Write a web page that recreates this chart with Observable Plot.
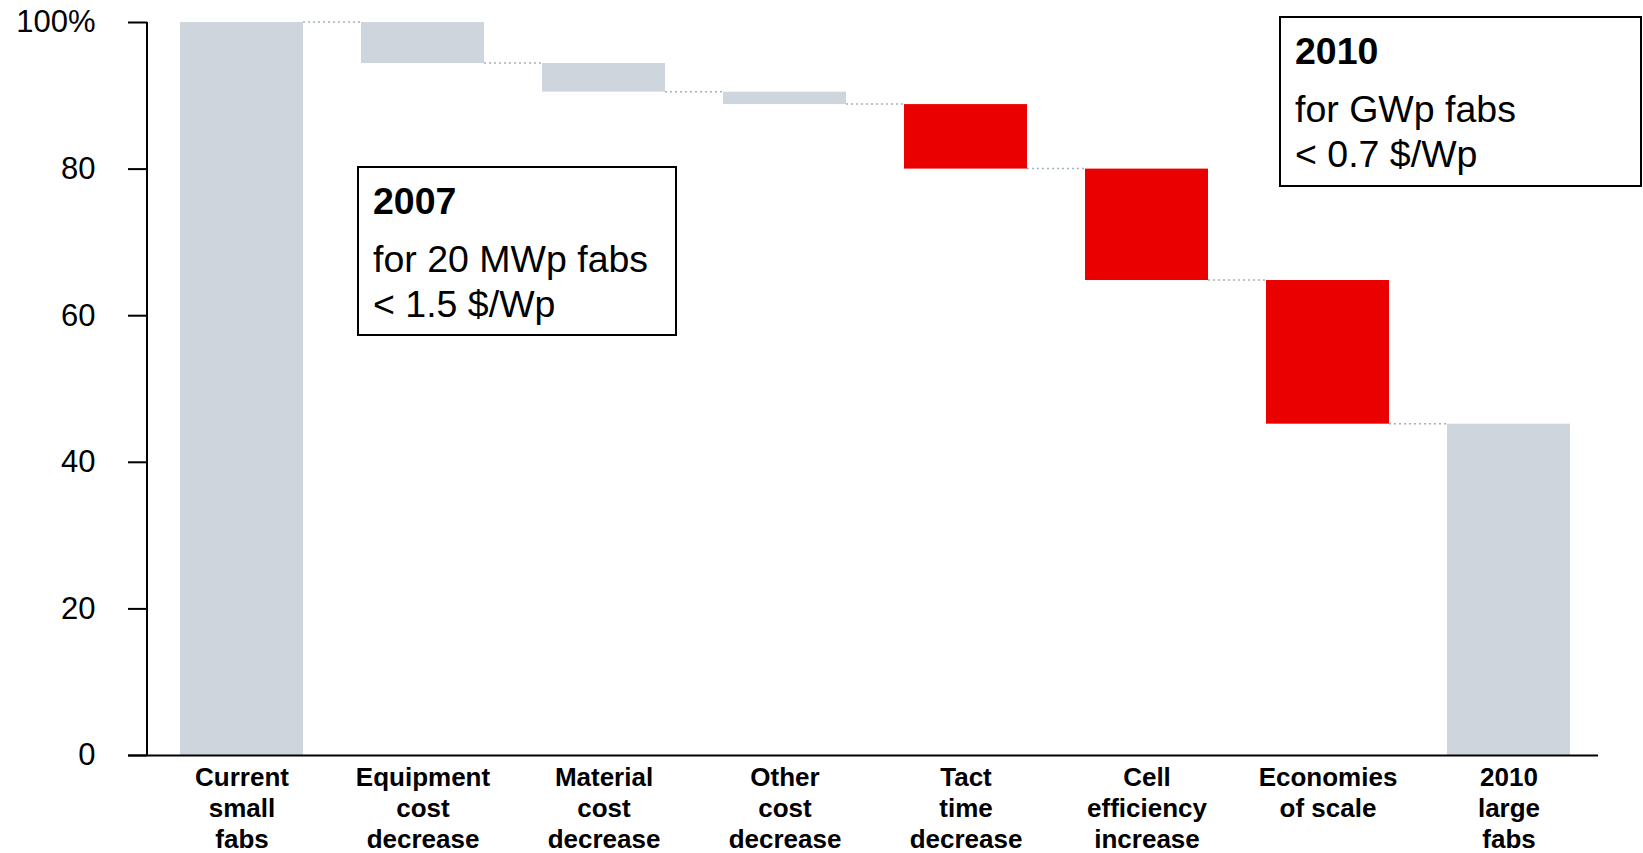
<!DOCTYPE html>
<html><head><meta charset="utf-8">
<script src="https://cdn.jsdelivr.net/npm/d3@7"></script>
<script src="https://cdn.jsdelivr.net/npm/@observablehq/plot@0.6"></script>
<style>
body{margin:0;background:#fff;}
#wrap{position:relative;width:1643px;height:853px;font-family:"Liberation Sans",Arial,sans-serif;}
.note{position:absolute;box-sizing:border-box;border:2px solid #000;background:#fff;padding:11px 0 0 14px;color:#000;font-size:37.5px;}
.note div{line-height:45px;white-space:nowrap;}
.note .yr{font-weight:bold;margin-bottom:13px;}
#note2007{left:357px;top:166px;width:320px;height:170px;}
#note2010{left:1279px;top:16px;width:363px;height:171px;}
</style></head><body><div id="wrap"></div>
<script>
const categories = ["Current small fabs","Equipment cost decrease","Material cost decrease","Other cost decrease","Tact time decrease","Cell efficiency increase","Economies of scale","2010 large fabs"];
const labels = ["Current\nsmall\nfabs","Equipment\ncost\ndecrease","Material\ncost\ndecrease","Other\ncost\ndecrease","Tact\ntime\ndecrease","Cell\nefficiency\nincrease","Economies\nof scale","2010\nlarge\nfabs"];
const values = [100, -5.6, -3.9, -1.7, -8.8, -15.2, -19.6, 45.2];
const groups = ["total","cost","cost","cost","production","production","production","total"];
const yTicks = [0, 20, 40, 60, 80, 100];
const noteYears = ["2007", "2010"];
const noteLines = [["for 20 MWp fabs", "< 1.5 $/Wp"], ["for GWp fabs", "< 0.7 $/Wp"]];

let run = 0;
const rows = categories.map((c, i) => {
  let y1, y2;
  if (groups[i] === "total") { y1 = 0; y2 = values[i]; run = values[i]; }
  else { y1 = run; y2 = run + values[i]; run = y2; }
  return {category: c, label: labels[i], group: groups[i], y1, y2, level: run};
});
const connectors = rows.slice(0, -1).map((r, i) => ({from: r.category, to: categories[i + 1], level: r.level}));

function connectorMark(index, scales, values, dims) {
  const g = d3.create("svg:g");
  const bw = scales.x.bandwidth();
  for (const c of connectors) {
    g.append("line")
      .attr("x1", scales.x(c.from) + bw).attr("x2", scales.x(c.to))
      .attr("y1", scales.y(c.level)).attr("y2", scales.y(c.level))
      .attr("stroke", "#9fb2bf").attr("stroke-width", 1.5).attr("stroke-dasharray", "2,3");
  }
  return g.node();
}
function yAxisLine(index, scales, values, dims) {
  const g = d3.create("svg:g");
  g.append("line")
    .attr("x1", dims.marginLeft).attr("x2", dims.marginLeft)
    .attr("y1", scales.y(yTicks[0])).attr("y2", scales.y(yTicks[yTicks.length - 1]))
    .attr("stroke", "#000").attr("stroke-width", 2);
  return g.node();
}

const chart = Plot.plot({
  width: 1643, height: 853,
  marginLeft: 147, marginRight: 45, marginTop: 22, marginBottom: 98,
  style: {fontFamily: "'Liberation Sans', Arial, sans-serif", color: "#000", background: "#fff"},
  x: {domain: categories, paddingInner: 0.322, paddingOuter: 0.161, align: 0.54, axis: null},
  y: {domain: [0, 100]},
  color: {domain: ["total", "cost", "production"], range: ["#cfd5dd", "#cfd5dd", "#eb0000"]},
  marks: [
    Plot.barY(rows, {x: "category", y1: "y1", y2: "y2", fill: "group"}),
    connectorMark,
    Plot.ruleY([0], {stroke: "#000", strokeWidth: 2, insetLeft: -19}),
    yAxisLine,
    Plot.axisY({ticks: yTicks, tickSize: 19, tickPadding: 33, fontSize: 31, strokeWidth: 2, label: null,
      tickFormat: d => d === 100 ? "100%" : String(d)}),
    Plot.text(rows, {x: "category", frameAnchor: "bottom", text: "label", lineAnchor: "top", dy: 9,
      fontSize: 26, fontWeight: "bold", lineHeight: 1.18, fill: "#000"})
  ]
});
const wrap = document.getElementById("wrap");
wrap.appendChild(chart);
noteYears.forEach((yr, i) => {
  const box = document.createElement("div");
  box.className = "note";
  box.id = "note" + yr;
  const h = document.createElement("div");
  h.className = "yr"; h.textContent = yr; box.appendChild(h);
  for (const t of noteLines[i]) { const d = document.createElement("div"); d.textContent = t; box.appendChild(d); }
  wrap.appendChild(box);
});
</script></body></html>
